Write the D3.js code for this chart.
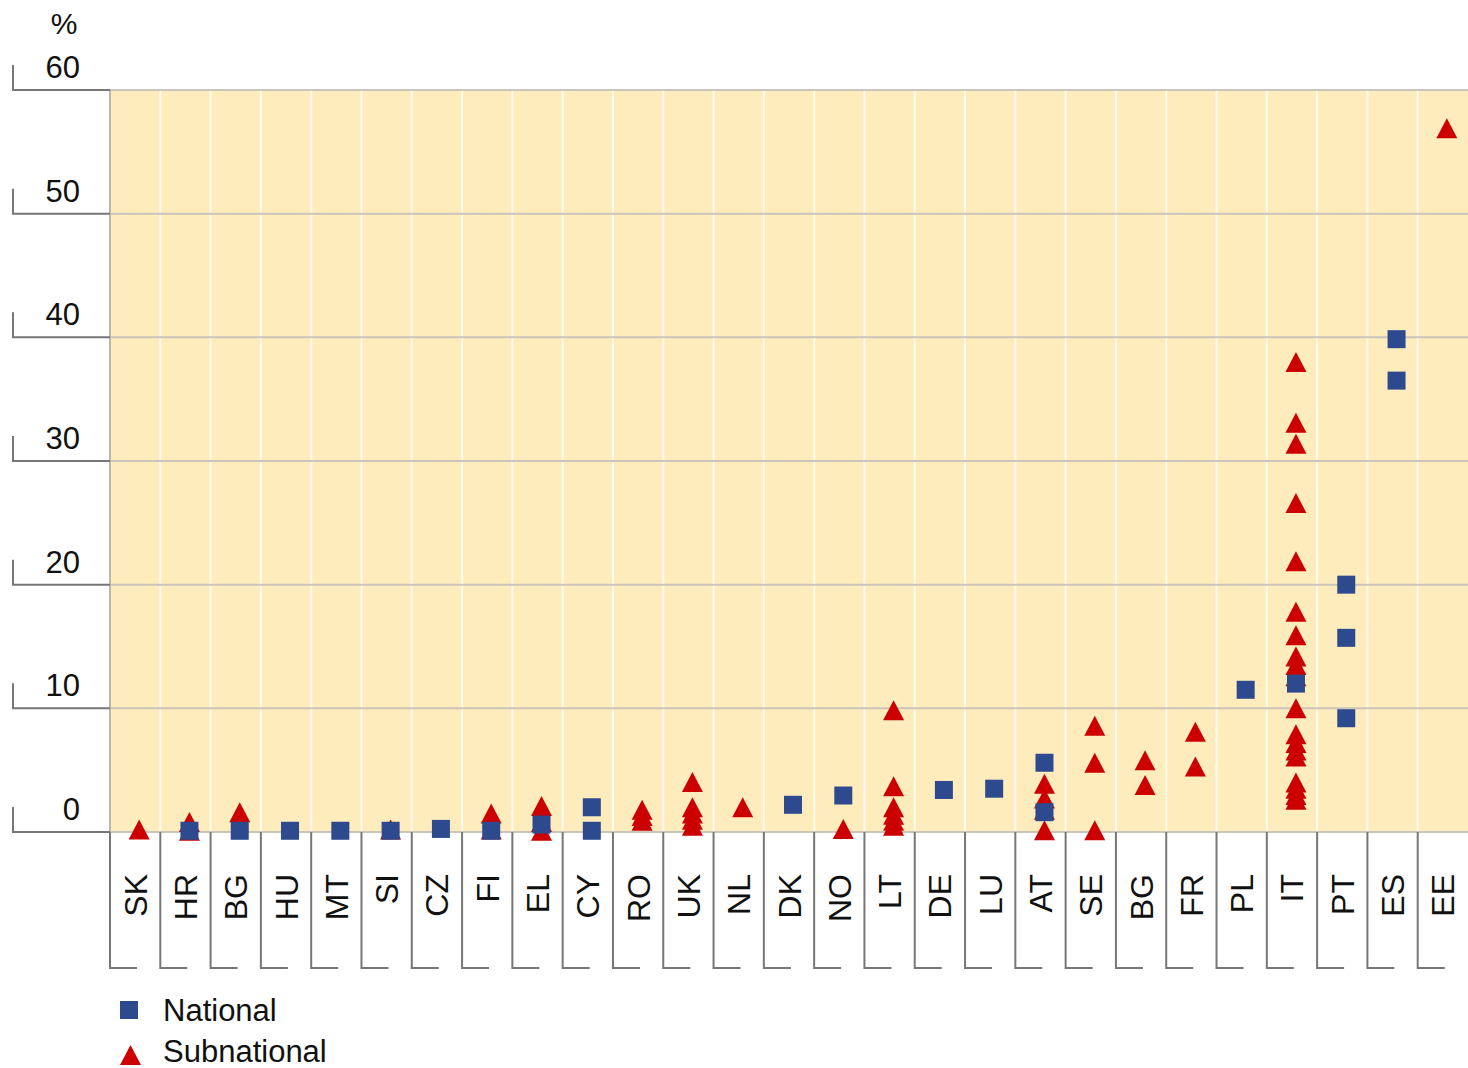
<!DOCTYPE html>
<html>
<head>
<meta charset="utf-8">
<script src="https://cdn.jsdelivr.net/npm/d3@7"></script>
<style>
  html, body { margin: 0; padding: 0; background: #ffffff; }
  svg { display: block; font-family: "Liberation Sans", Arial, sans-serif; }
</style>
</head>
<body>
<svg id="chart" width="1468" height="1068"></svg>
<script>
// ---- data ----
const categories = ["SK","HR","BG","HU","MT","SI","CZ","FI","EL","CY","RO","UK","NL","DK","NO","LT","DE","LU","AT","SE","BG","FR","PL","IT","PT","ES","EE"];
const nationalValues = [
  [], [0.1], [0.1], [0.1], [0.1], [0.1], [0.25], [0.1], [0.6], [2.0, 0.1],
  [], [], [], [2.2], [2.95], [], [3.4], [3.5], [5.6, 1.6], [], [], [],
  [11.5], [12.0], [20.0, 15.7, 9.2], [39.85, 36.5], []
];
const subnationalValues = [
  [0.2], [0.8, 0.1], [1.6], [], [], [0.2], [], [1.5, 0.2], [2.1, 0.8, 0.1], [],
  [1.8, 1.3, 0.9], [4.05, 2.0, 1.5, 1.0, 0.5], [2.0], [], [0.25],
  [9.85, 3.7, 2.0, 1.4, 0.9, 0.5], [], [], [3.9, 2.7, 1.8, 0.15],
  [8.6, 5.6, 0.15], [5.8, 3.8], [8.1, 5.3], [],
  [38.0, 33.1, 31.4, 26.6, 21.9, 17.8, 15.9, 14.2, 13.5, 12.6, 10.0, 7.9, 7.2, 6.6, 6.1, 4.0, 3.5, 3.0, 2.6],
  [], [], [56.9]
];
const yTicks = [0, 10, 20, 30, 40, 50, 60];
const seriesNames = ["National", "Subnational"];

// ---- styles ----
const colNational = "#2E4A8E";
const colSub = "#CC0000";
const bgCol = "#FEECBC";
const gridCol = "#C9C5BB";
const axisCol = "#777777";

const svg = d3.select("#chart");
const pLeft = 110, pRight = 1468, pTop = 90, pBottom = 832;

const x = d3.scaleBand().domain(d3.range(categories.length)).range([pLeft, pRight]).paddingInner(0).paddingOuter(0);
const y = d3.scaleLinear().domain([0, 60]).range([pBottom, pTop]);
const bw = x.bandwidth();
const mOff = 4;

// background
svg.append("rect").attr("x", pLeft).attr("y", pTop).attr("width", pRight - pLeft).attr("height", pBottom - pTop).attr("fill", bgCol);

// white column separators
svg.append("g").selectAll("line").data(d3.range(1, categories.length)).join("line")
  .attr("x1", d => x(d)).attr("x2", d => x(d))
  .attr("y1", pTop).attr("y2", pBottom)
  .attr("stroke", "#FFFBF0").attr("stroke-width", 2);

// horizontal gridlines
svg.append("g").selectAll("line").data(yTicks).join("line")
  .attr("x1", pLeft).attr("x2", pRight)
  .attr("y1", d => y(d)).attr("y2", d => y(d))
  .attr("stroke", gridCol).attr("stroke-width", 2);

// left border of plot
svg.append("line").attr("x1", pLeft).attr("x2", pLeft).attr("y1", pTop).attr("y2", pBottom)
  .attr("stroke", "#BDB8AA").attr("stroke-width", 2);

// y-axis L-shaped ticks
const yAxisG = svg.append("g");
yAxisG.selectAll("path").data(yTicks).join("path")
  .attr("d", d => `M13,${y(d) - 25} L13,${y(d)} L${pLeft},${y(d)}`)
  .attr("fill", "none").attr("stroke", axisCol).attr("stroke-width", 2);
yAxisG.selectAll("text").data(yTicks).join("text")
  .attr("x", 80).attr("y", d => y(d) - 12)
  .attr("text-anchor", "end").attr("font-size", 31).attr("fill", "#111")
  .text(d => d);
svg.append("text").attr("x", 64).attr("y", 34).attr("text-anchor", "middle")
  .attr("font-size", 30).attr("fill", "#111").text("%");

// category label boxes (L shapes)
const catG = svg.append("g");
catG.selectAll("path").data(d3.range(categories.length)).join("path")
  .attr("d", d => `M${x(d)},${pBottom} L${x(d)},968 L${x(d) + 27},968`)
  .attr("fill", "none").attr("stroke", axisCol).attr("stroke-width", 2);
catG.selectAll("text").data(d3.range(categories.length)).join("text")
  .attr("transform", d => `translate(${x(d) + bw / 2 + 11.5},874) rotate(-90)`)
  .attr("text-anchor", "end").attr("font-size", 32).attr("fill", "#111")
  .text(d => categories[d]);

// markers
const triW = 21, triH = 20, sq = 18;
const triPath = (cx, cy) => `M${cx},${cy - triH / 2} L${cx + triW / 2},${cy + triH / 2} L${cx - triW / 2},${cy + triH / 2} Z`;

const subPts = [];
subnationalValues.forEach((arr, i) => arr.forEach(v => subPts.push({ i, v })));
const natPts = [];
nationalValues.forEach((arr, i) => arr.forEach(v => natPts.push({ i, v })));

svg.append("g").selectAll("path").data(subPts).join("path")
  .attr("d", d => triPath(x(d.i) + bw / 2 + mOff, y(d.v)))
  .attr("fill", colSub);

svg.append("g").selectAll("rect").data(natPts).join("rect")
  .attr("x", d => x(d.i) + bw / 2 + mOff - sq / 2)
  .attr("y", d => y(d.v) - sq / 2)
  .attr("width", sq).attr("height", sq)
  .attr("fill", colNational);

// legend
const leg = svg.append("g");
leg.append("rect").attr("x", 120).attr("y", 1001).attr("width", 18).attr("height", 18).attr("fill", colNational);
leg.append("path").attr("d", triPath(130.5, 1055)).attr("fill", colSub);
leg.append("text").attr("x", 163).attr("y", 1021).attr("font-size", 31).attr("fill", "#111").text(seriesNames[0]);
leg.append("text").attr("x", 163).attr("y", 1062).attr("font-size", 31).attr("fill", "#111").text(seriesNames[1]);
</script>
</body>
</html>
